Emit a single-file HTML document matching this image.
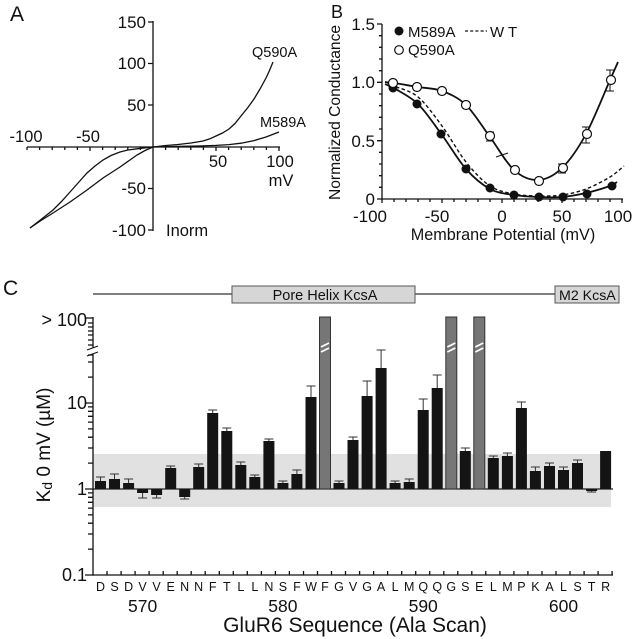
<!DOCTYPE html>
<html><head><meta charset="utf-8"><style>
html,body{margin:0;padding:0;background:#fff;}
svg{display:block;font-family:"Liberation Sans",Arial,sans-serif;}
</style></head><body>
<svg width="638" height="639" viewBox="0 0 638 639" xmlns="http://www.w3.org/2000/svg">
<rect width="638" height="639" fill="#fff"/>
<!-- ================= Panel A ================= -->
<g fill="#111">
<text x="10" y="21" font-size="21">A</text>
<g font-size="17" text-anchor="end">
<text x="146" y="28">150</text>
<text x="146" y="69">100</text>
<text x="146" y="111">50</text>
<text x="146" y="194">-50</text>
<text x="146" y="236">-100</text>
</g>
<g font-size="16.5" text-anchor="middle">
<text x="26" y="142">-100</text>
<text x="88" y="142">-50</text>
<text x="218" y="167">50</text>
<text x="280" y="167">100</text>
<text x="281" y="186">mV</text>
</g>
<text x="166" y="236" font-size="16.5">Inorm</text>
<text x="252" y="57" font-size="14.5">Q590A</text>
<text x="260" y="127" font-size="14.5">M589A</text>
</g>
<g stroke="#111" stroke-width="1.3" fill="none">
<line x1="27" y1="147" x2="280" y2="147"/>
<line x1="153" y1="21" x2="153" y2="231"/>
<path d="M27,147v3M39.6,147v3M52.2,147v3M64.8,147v3M77.4,147v3M90,147v4M102.6,147v3M115.2,147v3M127.8,147v3M140.4,147v3M165.6,147v3M178.2,147v3M190.8,147v3M203.4,147v3M216,147v4M228.6,147v3M241.2,147v3M253.8,147v3M266.4,147v3M279,147v4"/>
<path d="M148,22H153M148,63.5H153M148,105H153M148,188.5H153M148,230H153"/>
<polyline points="153,147 166,145.5 178,144.5 191,143 203,141 210,138.8 216,136 222.5,133 229,129 235,123.5 241,116 247.5,108 254,99 260,89 266,78 269.5,70.5 273,62"/>
<polyline points="153,147 178,146.4 203,145.9 216,145.4 229,144.6 241,143.2 254,140.6 266,137 279,132"/>
<polyline points="30,228 41,219.5 53,210 61.5,201.5 70,192 78.5,182.5 87,173 95,166 103,160 111,155.5 120,152 128,150 137,148.8 145,147.8 153,147"/>
<polyline points="30,228 41,220.5 53,213 61.5,207.5 70,202 78.5,196 87,190 95,184 103,178 111.5,172.5 120,167 128.5,161 137,155 145,150.5 153,147"/>
</g>
<!-- ================= Panel B ================= -->
<g fill="#111">
<text x="331" y="18" font-size="18">B</text>
<g font-size="17" text-anchor="end">
<text x="375" y="30">1.5</text>
<text x="375" y="88">1.0</text>
<text x="375" y="147">0.5</text>
<text x="375" y="205">0</text>
</g>
<g font-size="17" text-anchor="middle">
<text x="370" y="222">-100</text>
<text x="437" y="222">-50</text>
<text x="502" y="222">0</text>
<text x="562" y="222">50</text>
<text x="618" y="222">100</text>
</g>
<text x="503" y="240" font-size="16.2" text-anchor="middle">Membrane Potential (mV)</text>
<text transform="translate(340,112.5) rotate(-90)" font-size="15.6" text-anchor="middle">Normalized Conductance</text>
<text x="408" y="37" font-size="15">M589A</text>
<text x="490" y="37" font-size="15">W T</text>
<text x="408" y="55" font-size="15">Q590A</text>
</g>
<g stroke="#111" stroke-width="1.3" fill="none">
<line x1="382" y1="24" x2="382" y2="199.6"/>
<line x1="382" y1="199" x2="623" y2="199"/>
<path d="M377,24H382M377,82.3H382M377,140.7H382M377,199H382M379,35.7H382M379,47.3H382M379,59H382M379,70.7H382M379,94H382M379,105.7H382M379,117.3H382M379,129H382M379,152.3H382M379,164H382M379,175.7H382M379,187.3H382"/>
<path d="M382,199v4M394,199v3M406,199v3M418,199v3M430,199v3M442,199v4M454,199v3M466,199v3M478,199v3M490,199v3M502,199v4M514,199v3M526,199v3M538,199v3M550,199v3M562,199v4M574,199v3M586,199v3M598,199v3M610,199v3M622,199v4"/>
<line x1="465" y1="31" x2="487" y2="31" stroke-dasharray="3,2.2"/>
<!-- WT dashed -->
<path stroke-width="1.4" stroke-dasharray="3.5,2.5" d="M385,82 C388,83 391,84.5 394,86 C399.5,88.5 410,90.3 418,97 C426,103.7 434,115.2 442,126 C450,136.8 458,152 466,162 C474,172 482,180.7 490,186 C498,191.3 506,192.3 514,194 C522,195.7 530,195.8 538,196 C546,196.2 554,196.2 562,195 C570,193.8 578,192 586,189 C594,186 603.7,180.8 610,177 C614.7,174.2 619.3,170 624,166"/>
<!-- M589A -->
<path stroke-width="1.8" d="M385,84 C388,85.5 391,86.5 394,88 C399.5,91.7 410,96.2 418,104 C426,111.8 434,124.2 442,135 C450,145.8 458,160 466,169 C474,178 482,184.7 490,189 C498,193.3 506,193.7 514,195 C522,196.3 530,196.7 538,197 C546,197.3 554,197.7 562,197 C570,196.3 578,194.8 586,193 C594,191.2 604.8,187.8 610,186 C612.3,185.2 615,183.5 617,182"/>
<!-- Q590A -->
<path stroke-width="1.8" d="M385,82 C388,82.3 391,82.7 394,83 C399.5,83.8 410,85.7 418,87 C426,88.3 434,88 442,91 C450,94 458,97.3 466,105 C474,112.7 482,126.2 490,137 C498,147.8 506,162.8 514,170 C522,177.2 530,180.3 538,180 C546,179.7 554,175.7 562,168 C570,160.3 578,148.7 586,134 C594,119.3 604.7,92 610,80 C612.7,74 615.3,68 618,62"/>
<!-- error bars -->
<path stroke-width="1" d="M610,70V91M606,70H614M606,91H614M586,127V143M582,127H590M582,143H590M562,164V173M558,164H566M558,173H566M490,132V141M486,132H494M486,141H494M499,150L505,160M496,157L508,153"/>
</g>
<g fill="#111">
<circle cx="399" cy="31" r="4.5"/>
<circle cx="393" cy="88" r="4.5"/><circle cx="417" cy="104" r="4.5"/><circle cx="441" cy="134" r="4.5"/><circle cx="466" cy="169" r="4.5"/><circle cx="490" cy="188" r="4.5"/><circle cx="514" cy="195" r="4.5"/><circle cx="539" cy="197" r="4.5"/><circle cx="563" cy="197" r="4.5"/><circle cx="587" cy="194" r="4.5"/><circle cx="612" cy="186" r="4.5"/>
</g>
<g fill="#fff" stroke="#111" stroke-width="1.2">
<circle cx="399" cy="50" r="4.3"/>
<circle cx="393" cy="83" r="4.5"/><circle cx="417" cy="87" r="4.5"/><circle cx="442" cy="91" r="4.5"/><circle cx="466" cy="105" r="4.5"/><circle cx="490" cy="136" r="4.5"/><circle cx="515" cy="170" r="4.5"/><circle cx="539" cy="181" r="4.5"/><circle cx="563" cy="168" r="4.5"/><circle cx="587" cy="134" r="4.5"/><circle cx="611" cy="80" r="4.5"/>
</g>
<!-- ================= Panel C ================= -->
<text x="3" y="295" font-size="21" fill="#111">C</text>
<!-- header -->
<g stroke="#333" stroke-width="1.3">
<line x1="93" y1="294" x2="232" y2="294"/>
<line x1="415" y1="294" x2="555" y2="294"/>
</g>
<rect x="232" y="286" width="183" height="17" fill="#d6d6d6" stroke="#555" stroke-width="1"/>
<rect x="555" y="286" width="64" height="17" fill="#d6d6d6" stroke="#555" stroke-width="1"/>
<text x="325" y="300" font-size="14.5" text-anchor="middle" fill="#111">Pore Helix KcsA</text>
<text x="559" y="300" font-size="14.2" fill="#111">M2 KcsA</text>
<!-- band -->
<rect x="93" y="454" width="518" height="53" fill="#e1e1e1"/>
<line x1="93" y1="489" x2="613" y2="489" stroke="#222" stroke-width="1.2"/>
<!-- bars -->
<g fill="#141414">
<rect x="95" y="481" width="11" height="8"/>
<rect x="109" y="479" width="11" height="10"/>
<rect x="123.1" y="483" width="11" height="6"/>
<rect x="137.1" y="489" width="11" height="4"/>
<rect x="151.1" y="489" width="11" height="6"/>
<rect x="165.2" y="468" width="11" height="21"/>
<rect x="179.2" y="489" width="11" height="8"/>
<rect x="193.2" y="467" width="11" height="22"/>
<rect x="207.2" y="413" width="11" height="76"/>
<rect x="221.3" y="431" width="11" height="58"/>
<rect x="235.3" y="465" width="11" height="24"/>
<rect x="249.3" y="477" width="11" height="12"/>
<rect x="263.4" y="441" width="11" height="48"/>
<rect x="277.4" y="483" width="11" height="6"/>
<rect x="291.4" y="474" width="11" height="15"/>
<rect x="305.5" y="397" width="11" height="92"/>
<rect x="333.5" y="483" width="11" height="6"/>
<rect x="347.5" y="440" width="11" height="49"/>
<rect x="361.6" y="396" width="11" height="93"/>
<rect x="375.6" y="368" width="11" height="121"/>
<rect x="389.6" y="483" width="11" height="6"/>
<rect x="403.7" y="482" width="11" height="7"/>
<rect x="417.7" y="410" width="11" height="79"/>
<rect x="431.7" y="388" width="11" height="101"/>
<rect x="459.8" y="451" width="11" height="38"/>
<rect x="487.8" y="458" width="11" height="31"/>
<rect x="501.9" y="456" width="11" height="33"/>
<rect x="515.9" y="408" width="11" height="81"/>
<rect x="529.9" y="471" width="11" height="18"/>
<rect x="544" y="466" width="11" height="23"/>
<rect x="558" y="470" width="11" height="19"/>
<rect x="572" y="463" width="11" height="26"/>
<rect x="586.1" y="489" width="11" height="2"/>
<rect x="600.1" y="451" width="11" height="38"/>
</g>
<g fill="#767676" stroke="#333" stroke-width="1">
<rect x="319.5" y="317" width="11" height="172"/>
<rect x="445.8" y="317" width="11" height="172"/>
<rect x="473.8" y="317" width="11" height="172"/>
</g>
<g stroke="#fff" stroke-width="1.8">
<path d="M321,347L329,343M321,352L329,348"/>
<path d="M447.3,347L455.3,343M447.3,352L455.3,348"/>
<path d="M475.3,347L483.3,343M475.3,352L483.3,348"/>
</g>
<g stroke="#333" stroke-width="1" fill="none">
<path d="M100.5,481V477M96,477H105M114.5,479V474M110,474H119M128.6,483V479M124.1,479H133.1M142.6,493V498M138.1,498H147.1M156.6,495V498M152.1,498H161.1M170.7,468V466M166.2,466H175.2M184.7,497V499M180.2,499H189.2M198.7,467V464M194.2,464H203.2M212.7,413V410M208.2,410H217.2M226.8,431V428M222.3,428H231.3M240.8,465V462M236.3,462H245.3M254.8,477V475M250.3,475H259.3M268.9,441V439M264.4,439H273.4M282.9,483V481M278.4,481H287.4M296.9,474V470M292.4,470H301.4M311,397V386M306.5,386H315.5M339,483V481M334.5,481H343.5M353,440V437M348.5,437H357.5M367.1,396V381M362.6,381H371.6M381.1,368V350M376.6,350H385.6M395.1,483V481M390.6,481H399.6M409.2,482V479M404.7,479H413.7M423.2,410V399M418.7,399H427.7M437.2,388V375M432.7,375H441.7M465.3,451V448M460.8,448H469.8M493.3,458V456M488.8,456H497.8M507.4,456V453M502.9,453H511.9M521.4,408V402M516.9,402H525.9M535.4,471V467M530.9,467H539.9M549.5,466V463M545,463H554M563.5,470V467M559,467H568M577.5,463V460M573,460H582M591.6,491V492M587.1,492H596.1"/>
</g>
<!-- axes C -->
<g stroke="#111" stroke-width="1.3" fill="none">
<line x1="93" y1="317" x2="93" y2="348"/>
<line x1="93" y1="354" x2="93" y2="575.6"/>
<line x1="92.4" y1="575" x2="613" y2="575"/>
<path d="M87,350L98,346M87,356L98,352" stroke-width="1.1"/>
<path d="M85,318H93M88,323H93M88,327H93M88,331H93M88,335H93M88,340H93M88,345H93"/>
<path d="M85,403H93M85,489H93M85,575H93M88,355H93M88,362H93M88,377.1H93M88,406.9H93M88,411.3H93M88,416.3H93M88,422.1H93M88,428.9H93M88,437.2H93M88,448H93M88,463.1H93M88,492.9H93M88,497.3H93M88,502.3H93M88,508.1H93M88,514.9H93M88,523.2H93M88,534H93M88,549.1H93"/>
<path d="M107,575v-4M121.1,575v-4M135.1,575v-4M149.1,575v-4M163.2,575v-4M177.2,575v-4M191.2,575v-4M205.2,575v-4M219.3,575v-4M233.3,575v-4M247.3,575v-4M261.4,575v-4M275.4,575v-4M289.4,575v-4M303.5,575v-4M317.5,575v-4M331.5,575v-4M345.5,575v-4M359.6,575v-4M373.6,575v-4M387.6,575v-4M401.7,575v-4M415.7,575v-4M429.7,575v-4M443.8,575v-4M457.8,575v-4M471.8,575v-4M485.8,575v-4M499.9,575v-4M513.9,575v-4M527.9,575v-4M542,575v-4M556,575v-4M570,575v-4M584.1,575v-4M598.1,575v-4M612.1,575v-4"/>
</g>
<g fill="#111">
<g font-size="18" text-anchor="end">
<text x="87" y="326">&gt; 100</text>
<text x="87" y="409">10</text>
<text x="87" y="495">1</text>
<text x="87" y="581">0.1</text>
</g>
<text transform="translate(50,445) rotate(-90)" font-size="19" text-anchor="middle">K<tspan font-size="14" dy="2">d</tspan><tspan dy="-2"> 0 mV (µM)</tspan></text>
<g font-size="12.5" text-anchor="middle">
<text x="100.5" y="591">D</text><text x="114.5" y="591">S</text><text x="128.6" y="591">D</text><text x="142.6" y="591">V</text><text x="156.6" y="591">V</text><text x="170.7" y="591">E</text><text x="184.7" y="591">N</text><text x="198.7" y="591">N</text><text x="212.7" y="591">F</text><text x="226.8" y="591">T</text><text x="240.8" y="591">L</text><text x="254.8" y="591">L</text><text x="268.9" y="591">N</text><text x="282.9" y="591">S</text><text x="296.9" y="591">F</text><text x="311" y="591">W</text><text x="325" y="591">F</text><text x="339" y="591">G</text><text x="353" y="591">V</text><text x="367.1" y="591">G</text><text x="381.1" y="591">A</text><text x="395.1" y="591">L</text><text x="409.2" y="591">M</text><text x="423.2" y="591">Q</text><text x="437.2" y="591">Q</text><text x="451.3" y="591">G</text><text x="465.3" y="591">S</text><text x="479.3" y="591">E</text><text x="493.3" y="591">L</text><text x="507.4" y="591">M</text><text x="521.4" y="591">P</text><text x="535.4" y="591">K</text><text x="549.5" y="591">A</text><text x="563.5" y="591">L</text><text x="577.5" y="591">S</text><text x="591.6" y="591">T</text><text x="605.6" y="591">R</text>
</g>
<g font-size="17.5" text-anchor="middle">
<text x="142.6" y="612">570</text>
<text x="282.9" y="612">580</text>
<text x="423.2" y="612">590</text>
<text x="563.5" y="612">600</text>
</g>
<text x="355" y="632" font-size="21" text-anchor="middle">GluR6 Sequence (Ala Scan)</text>
</g>
</svg>
</body></html>
